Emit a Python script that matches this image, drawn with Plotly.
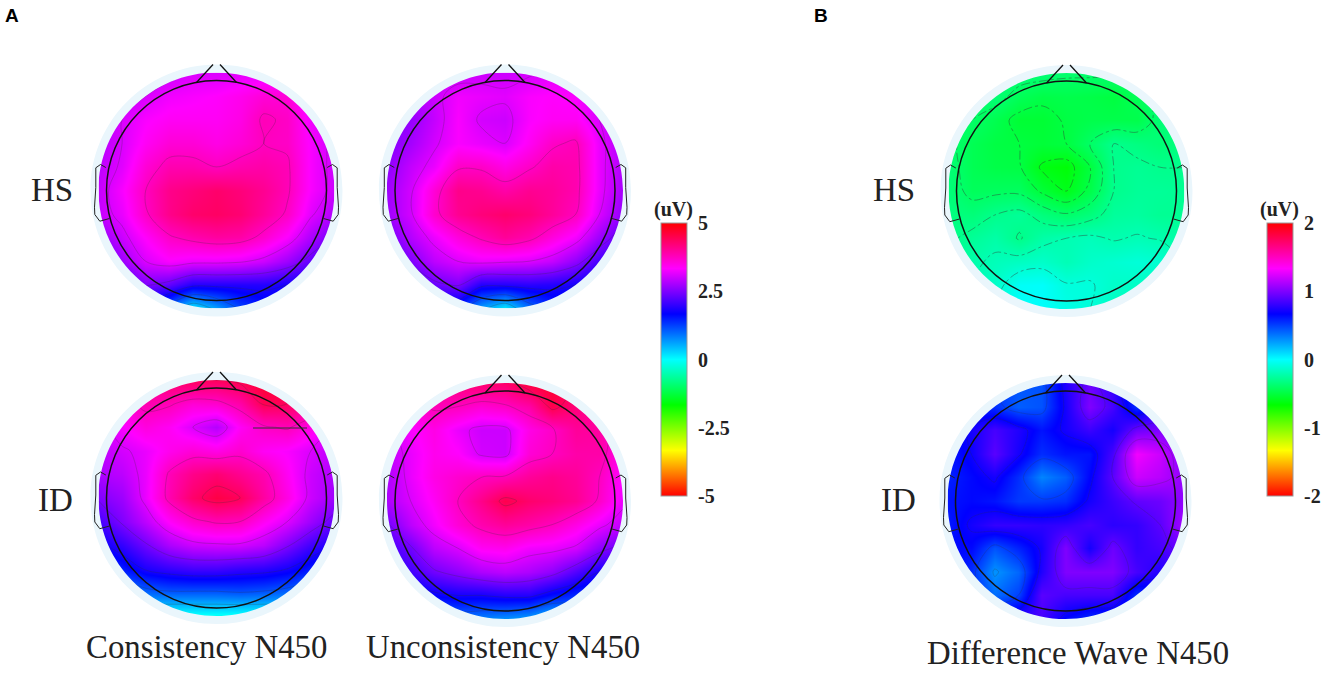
import plotly.graph_objects as go

# Every row runs left to right across the head, rows run from the nose to the back of the head
CONSISTENCY_HS = [
    [2.7, 2.8, 2.9, 3.0, 3.1, 3.1, 3.15, 3.15, 3.1, 3.0, 2.8],
    [2.7, 2.9, 3.1, 3.25, 3.3, 3.35, 3.45, 3.6, 3.6, 3.15, 2.9],
    [2.8, 3.1, 3.3, 3.4, 3.4, 3.4, 3.5, 3.8, 3.7, 3.25, 2.95],
    [2.85, 3.1, 3.4, 3.6, 3.6, 3.5, 3.6, 3.75, 3.7, 3.3, 3.0],
    [2.9, 3.15, 3.6, 3.85, 3.85, 3.75, 3.85, 3.9, 3.8, 3.3, 3.0],
    [2.95, 3.3, 3.75, 4.1, 4.2, 4.3, 4.2, 4.05, 3.8, 3.3, 3.0],
    [2.95, 3.2, 3.7, 4.1, 4.3, 4.35, 4.25, 4.0, 3.7, 3.15, 2.8],
    [2.6, 3.0, 3.35, 3.7, 3.85, 3.95, 3.9, 3.65, 3.3, 2.8, 2.4],
    [2.2, 2.7, 3.1, 3.3, 3.2, 3.2, 3.15, 3.0, 2.7, 2.3, 1.9],
    [1.7, 2.1, 2.5, 2.3, 1.9, 1.9, 1.9, 1.9, 1.8, 1.7, 1.5],
    [1.3, 1.5, 1.6, 0.9, 0.1, 0.6, 1.2, 1.5, 1.5, 1.4, 1.3],
]
UNCONSISTENCY_HS = [
    [2.7, 2.8, 2.9, 2.95, 3.0, 3.0, 3.05, 3.15, 3.1, 2.95, 2.7],
    [2.5, 2.75, 3.0, 3.25, 3.2, 3.15, 3.3, 3.35, 3.3, 3.0, 2.75],
    [2.45, 2.65, 2.95, 3.3, 3.05, 3.0, 3.3, 3.4, 3.4, 3.1, 2.75],
    [2.5, 2.75, 3.05, 3.3, 3.2, 3.1, 3.4, 3.7, 3.8, 3.2, 2.8],
    [2.6, 2.95, 3.2, 3.7, 3.7, 3.5, 3.7, 3.9, 3.85, 3.2, 2.8],
    [2.7, 3.05, 3.6, 4.1, 4.05, 3.9, 4.05, 4.0, 3.85, 3.2, 2.75],
    [2.7, 3.05, 3.65, 4.05, 4.2, 4.3, 4.2, 4.0, 3.75, 3.1, 2.6],
    [2.4, 2.85, 3.2, 3.55, 3.8, 4.0, 3.85, 3.55, 3.25, 2.7, 2.2],
    [2.0, 2.5, 2.9, 3.1, 3.2, 3.15, 3.1, 2.95, 2.6, 2.1, 1.8],
    [1.7, 2.0, 2.35, 2.5, 1.9, 1.9, 1.95, 1.9, 1.8, 1.6, 1.5],
    [1.4, 1.5, 1.6, 1.4, 0.6, 0.1, 0.9, 1.4, 1.4, 1.3, 1.2],
]
CONSISTENCY_ID = [
    [3.6, 3.8, 4.1, 4.3, 4.4, 4.4, 4.5, 4.7, 4.7, 4.3, 3.9],
    [3.3, 3.6, 3.85, 3.8, 3.6, 3.65, 3.9, 4.45, 4.4, 4.1, 3.6],
    [3.0, 3.3, 3.55, 3.4, 3.1, 2.85, 3.4, 3.7, 3.8, 3.5, 3.1],
    [2.9, 3.05, 3.2, 3.45, 3.6, 3.5, 3.65, 3.4, 3.3, 3.1, 2.9],
    [2.8, 2.9, 3.2, 3.8, 4.1, 4.25, 4.05, 3.85, 3.4, 3.0, 2.8],
    [2.5, 2.7, 3.2, 3.85, 4.3, 4.55, 4.4, 3.95, 3.5, 3.0, 2.7],
    [2.1, 2.5, 2.9, 3.35, 3.65, 3.8, 3.75, 3.4, 3.1, 2.7, 2.3],
    [1.7, 2.0, 2.4, 2.8, 3.0, 3.05, 3.05, 2.9, 2.5, 2.1, 1.8],
    [1.2, 1.5, 1.85, 2.0, 2.1, 2.1, 2.0, 1.95, 1.8, 1.5, 1.2],
    [0.6, 0.7, 1.0, 1.1, 1.1, 1.1, 1.15, 1.1, 1.0, 0.8, 0.7],
    [0.1, 0.1, 0.0, -0.1, -0.1, -0.1, -0.1, -0.1, 0.0, 0.1, 0.1],
]
UNCONSISTENCY_ID = [
    [3.4, 3.8, 4.05, 4.2, 4.3, 4.3, 4.6, 4.7, 4.4, 4.2, 3.8],
    [3.2, 3.6, 3.8, 3.75, 3.6, 3.7, 3.9, 4.5, 4.2, 4.0, 3.6],
    [3.0, 3.3, 3.5, 3.2, 3.0, 3.0, 3.5, 3.7, 4.0, 3.95, 3.5],
    [2.9, 3.2, 3.45, 3.35, 3.05, 3.0, 3.6, 3.75, 3.9, 3.9, 3.4],
    [2.8, 3.2, 3.5, 3.65, 3.75, 3.8, 4.0, 4.1, 4.0, 3.75, 3.3],
    [2.8, 3.1, 3.4, 3.75, 4.1, 4.5, 4.3, 4.2, 4.05, 3.7, 3.2],
    [2.4, 2.9, 3.25, 3.6, 3.85, 4.0, 3.9, 3.75, 3.5, 3.2, 2.9],
    [2.1, 2.4, 2.9, 3.1, 3.4, 3.45, 3.25, 3.2, 3.05, 2.6, 2.3],
    [1.8, 2.1, 2.4, 2.6, 2.8, 2.9, 2.8, 2.6, 2.2, 1.8, 1.7],
    [1.2, 1.5, 1.7, 1.8, 1.8, 1.9, 1.9, 1.6, 1.4, 1.3, 1.2],
    [0.8, 0.9, 0.9, 0.9, 0.8, 0.7, 0.6, 0.3, 0.6, 0.8, 0.9],
]
DIFFERENCE_HS = [
    [-.36, -.36, -.36, -.35, -.36, -.38, -.38, -.38, -.38, -.36, -.36],
    [-.36, -.36, -.36, -.44, -.48, -.47, -.48, -.50, -.44, -.36, -.36],
    [-.37, -.40, -.46, -.53, -.53, -.49, -.47, -.47, -.47, -.36, -.34],
    [-.37, -.45, -.49, -.50, -.52, -.50, -.40, -.30, -.33, -.36, -.33],
    [-.36, -.45, -.48, -.49, -.62, -.65, -.50, -.30, -.28, -.30, -.30],
    [-.35, -.43, -.42, -.42, -.52, -.60, -.47, -.30, -.27, -.27, -.28],
    [-.33, -.35, -.30, -.27, -.34, -.39, -.34, -.26, -.25, -.28, -.28],
    [-.32, -.27, -.23, -.31, -.23, -.20, -.18, -.21, -.19, -.21, -.24],
    [-.28, -.22, -.18, -.16, -.14, -.19, -.14, -.12, -.10, -.12, -.20],
    [-.25, -.20, -.14, -.02, -.01, -.09, -.09, -.14, -.15, -.18, -.20],
    [-.24, -.20, -.10, -.02, -.01, -.06, -.10, -.16, -.20, -.20, -.22],
]
DIFFERENCE_ID = [
    [.55, .55, .50, .45, .45, .75, .95, .80, .50, .70, .90],
    [.60, .60, .55, .42, .45, .72, 1.0, .85, .55, .75, .90],
    [.60, .72, .85, .75, .62, .72, .82, .72, .95, 1.0, .95],
    [.60, .70, .90, .72, .55, .62, .62, .85, 1.3, 1.2, 1.0],
    [.58, .65, .72, .55, .32, .42, .66, .90, 1.2, 1.15, 1.05],
    [.62, .65, .62, .52, .52, .55, .72, .82, .92, .95, 1.05],
    [.60, .72, .80, .80, .78, .80, .85, .78, .80, .90, 1.1],
    [.65, .65, .45, .58, .72, 1.0, .72, .95, .80, .85, .95],
    [.70, .55, .28, .40, .75, 1.0, 1.0, 1.0, .85, .75, .80],
    [.80, .60, .38, .50, .90, .85, .85, .85, .55, .60, .70],
    [.80, .70, .70, .80, .85, .65, .55, .55, .55, .55, .55],
]

RAINBOW = [[0, '#ff0000'], [1 / 6, '#ffff00'], [1 / 3, '#00ff00'], [1 / 2, '#00ffff'],
           [2 / 3, '#0000ff'], [5 / 6, '#ff00ff'], [1, '#ff0000']]
TICKS_A = [5, 2.5, 0, -2.5, -5]
TICKS_B = [2, 1, 0, -1, -2]
TICK_LABELS_A = ['5', '2.5', '0', '-2.5', '-5']
TICK_LABELS_B = ['2', '1', '0', '-1', '-2']

SERIF = 'Liberation Serif'
DISK_R = 118
OUTLINE_R = 110
HALO_R = 126
GRID_N = 11

# z, center x, center y, color axis, contour start, contour size, line alpha, dash
HEADS = [(CONSISTENCY_HS, 216.5, 190.5, 'coloraxis', 0.5, 0.65, 0.35, 'solid'),
         (UNCONSISTENCY_HS, 505, 190.5, 'coloraxis', 0.5, 0.65, 0.35, 'solid'),
         (CONSISTENCY_ID, 216.5, 498, 'coloraxis', 0.5, 0.65, 0.35, 'solid'),
         (UNCONSISTENCY_ID, 505, 501, 'coloraxis', 0.5, 0.65, 0.35, 'solid'),
         (DIFFERENCE_HS, 1066.5, 191, 'coloraxis2', -0.6, 0.1, 0.6, 'dashdot'),
         (DIFFERENCE_ID, 1065.5, 501, 'coloraxis2', 0.3, 0.2, 0.3, 'solid')]

EAR = [(-110.7, -23), (-116, -26), (-120.7, -22.7), (-120.7, -3), (-122, 16.7),
       (-121.7, 24), (-116.7, 30.7), (-107, 28)]


def circle_path(cx, cy, r):
    """Closed bezier circle, plotly shape paths do not accept SVG arcs"""
    k = 0.5523 * r
    return (f'M{cx - r},{cy} C{cx - r},{cy - k} {cx - k},{cy - r} {cx},{cy - r} '
            f'C{cx + k},{cy - r} {cx + r},{cy - k} {cx + r},{cy} '
            f'C{cx + r},{cy + k} {cx + k},{cy + r} {cx},{cy + r} '
            f'C{cx - k},{cy + r} {cx - r},{cy + k} {cx - r},{cy} Z')


def head_shapes(cx, cy):
    box = DISK_R + 12
    square = f'M{cx - box},{cy - box} L{cx + box},{cy - box} L{cx + box},{cy + box} L{cx - box},{cy + box} Z'
    # The halo runs a bit under the white mask so the map cannot show through the seam
    shapes = [dict(type='path', path=circle_path(cx, cy, HALO_R + 2) + ' ' + circle_path(cx, cy, DISK_R),
                   fillrule='evenodd', fillcolor='#eaf6fc', line_width=0, layer='above'),
              dict(type='path', path=square + ' ' + circle_path(cx, cy, HALO_R), fillrule='evenodd',
                   fillcolor='white', line_width=0, layer='above'),
              dict(type='path', path=circle_path(cx, cy, OUTLINE_R), line=dict(color='#111111', width=1.5),
                   layer='above')]
    for side in (-1, 1):
        ear = 'M' + ' L'.join(f'{cx + side * dx},{cy + dy}' for dx, dy in EAR)
        shapes.append(dict(type='path', path=ear, line=dict(color='#222222', width=1), layer='above'))
        shapes.append(dict(type='line', x0=cx + side * 20, y0=cy - 108, x1=cx + side * 3.5, y1=cy - 126,
                           line=dict(color='#111111', width=1.3), layer='above'))
    return shapes


def colorbar(x, vals, labels):
    return dict(x=x, xanchor='left', xref='paper', y=1 - 223 / 680, yanchor='top', yref='paper',
                lenmode='fraction', len=273 / 680, thickness=26, thicknessmode='pixels',
                xpad=0, ypad=0, outlinewidth=1, outlinecolor='#999999',
                tickmode='array', tickvals=vals, ticktext=labels, ticks='outside', ticklen=7,
                tickcolor='rgba(0,0,0,0)', tickfont=dict(family=SERIF, size=20, color='#222222', weight='bold'))


fig = go.Figure()
shapes = []
for z, cx, cy, axis, start, size, alpha, dash in HEADS:
    step = 2 * DISK_R / (GRID_N - 1)
    fig.add_trace(go.Contour(z=z, x0=cx - DISK_R, dx=step, y0=cy - DISK_R, dy=step, coloraxis=axis,
                             autocontour=False, contours=dict(coloring='heatmap', start=start, end=5, size=size),
                             line=dict(color=f'rgba(50,50,50,{alpha})', width=0.7, dash=dash, smoothing=1),
                             hoverinfo='skip'))
    shapes += head_shapes(cx, cy)

# stray straight contour edge at the top right of the ID consistency map
shapes.append(dict(type='line', x0=253, y0=428, x1=307, y1=428, line=dict(color='#333333', width=1), layer='above'))

text_items = [('HS', 51.5, 190, 33), ('ID', 55, 500, 33), ('HS', 893.5, 190, 33), ('ID', 898, 500, 33),
              ('Consistency N450', 206, 647, 32.8), ('Unconsistency N450', 503, 647, 32.8),
              ('Difference Wave N450', 1078, 653, 32.8)]
annotations = [dict(text=t, x=x, y=y, xref='x', yref='y', showarrow=False, xanchor='center', yanchor='middle',
                    font=dict(family=SERIF, size=s, color='#222222')) for t, x, y, s in text_items]
annotations += [dict(text='(uV)', x=x, y=209, xref='x', yref='y', showarrow=False, xanchor='center', yanchor='middle',
                     font=dict(family=SERIF, size=20, color='#222222', weight='bold')) for x in (673, 1279)]
annotations += [dict(text=t, x=x, y=y, xref='x', yref='y', showarrow=False, xanchor='center', yanchor='middle',
                     font=dict(family='Liberation Sans', size=19, color='black', weight='bold'))
                for t, x, y in (('A', 12, 15), ('B', 821, 15))]

fig.update_layout(width=1325, height=680, margin=dict(l=0, r=0, t=0, b=0, autoexpand=False),
                  paper_bgcolor='white', plot_bgcolor='white', showlegend=False,
                  xaxis=dict(range=[0, 1325], visible=False, fixedrange=True),
                  yaxis=dict(range=[680, 0], visible=False, fixedrange=True),
                  coloraxis=dict(colorscale=RAINBOW, cmin=-5, cmax=5,
                                 colorbar=colorbar(660.7 / 1325, TICKS_A, TICK_LABELS_A)),
                  coloraxis2=dict(colorscale=RAINBOW, cmin=-2, cmax=2,
                                  colorbar=colorbar(1267 / 1325, TICKS_B, TICK_LABELS_B)),
                  shapes=shapes, annotations=annotations)

# the page body has a default margin that would push the 1325 wide figure off the window
fig.write_html('out.html', config={'displayModeBar': False}, post_script="document.body.style.margin = '0';")
